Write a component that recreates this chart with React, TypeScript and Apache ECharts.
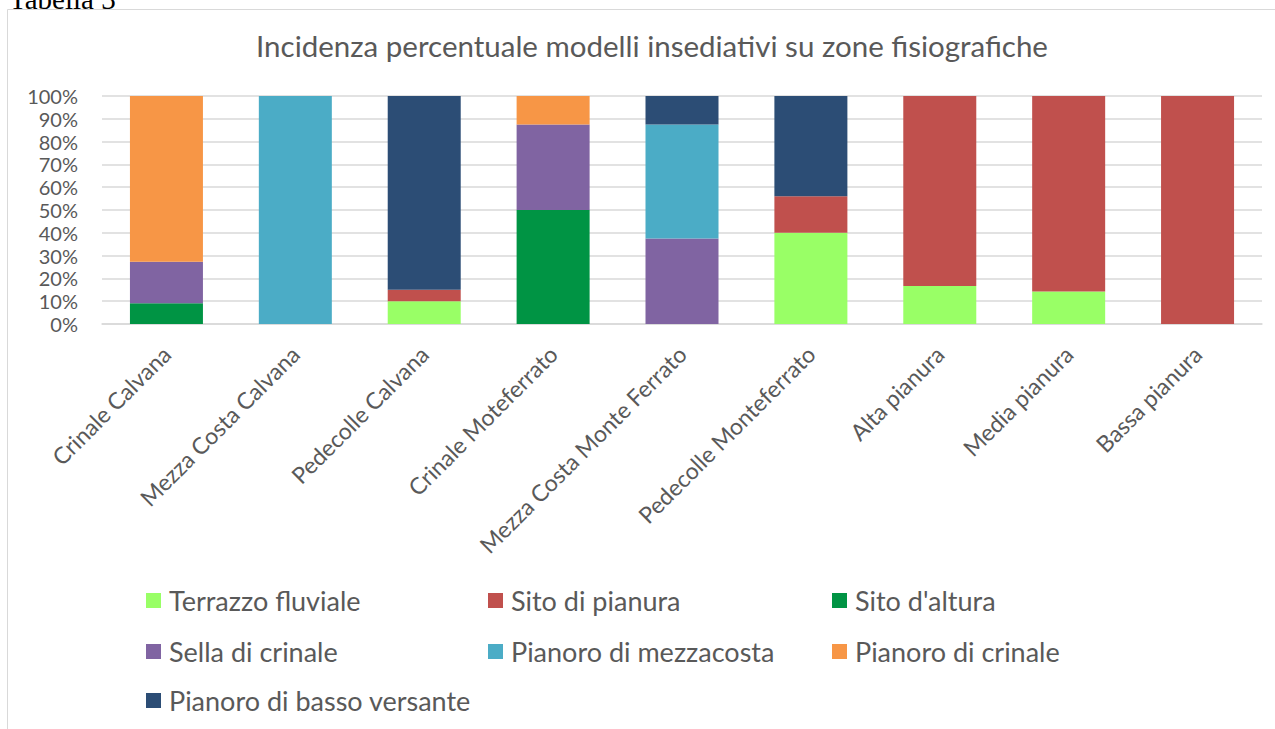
import React, { useEffect, useRef } from "react";
import * as echarts from "echarts";

const categories = [
  "Crinale Calvana",
  "Mezza Costa Calvana",
  "Pedecolle Calvana",
  "Crinale Moteferrato",
  "Mezza Costa Monte Ferrato",
  "Pedecolle Monteferrato",
  "Alta pianura",
  "Media pianura",
  "Bassa pianura",
];

const seriesNames = [
  "Terrazzo fluviale",
  "Sito di pianura",
  "Sito d'altura",
  "Sella di crinale",
  "Pianoro di mezzacosta",
  "Pianoro di crinale",
  "Pianoro di basso versante",
];

const terrazzoFluviale = [0, 0, 10, 0, 0, 40, 16.67, 14.29, 0];
const sitoDiPianura = [0, 0, 5, 0, 0, 16, 83.33, 85.71, 100];
const sitoDAltura = [9.09, 0, 0, 50, 0, 0, 0, 0, 0];
const sellaDiCrinale = [18.18, 0, 0, 37.5, 37.5, 0, 0, 0, 0];
const pianoroDiMezzacosta = [0, 100, 0, 0, 50, 0, 0, 0, 0];
const pianoroDiCrinale = [72.73, 0, 0, 12.5, 0, 0, 0, 0, 0];
const pianoroDiBassoVersante = [0, 0, 85, 0, 12.5, 44, 0, 0, 0];

const seriesValues = [
  terrazzoFluviale,
  sitoDiPianura,
  sitoDAltura,
  sellaDiCrinale,
  pianoroDiMezzacosta,
  pianoroDiCrinale,
  pianoroDiBassoVersante,
];

const seriesColors = [
  "#99ff66",
  "#c0504d",
  "#009444",
  "#8064a2",
  "#4bacc6",
  "#f79646",
  "#2c4d75",
];

// legend layout: [left, top]
const legendPositions = [
  [141, 582],
  [483, 582],
  [827, 582],
  [141, 633],
  [483, 633],
  [827, 633],
  [141, 682],
];

const FONT = "Lato, 'Open Sans', sans-serif";
const TEXT_COLOR = "#595959";

export default function App() {
  const ref = useRef<HTMLDivElement>(null);

  useEffect(() => {
    if (!ref.current) return;
    const chart = echarts.init(ref.current, null, { renderer: "svg" });
    const option: any = {
      animation: false,
      backgroundColor: "#ffffff",
      title: {
        text: "Incidenza percentuale modelli insediativi su zone fisiografiche",
        left: 647,
        top: 25,
        textAlign: "center",
        textStyle: {
          fontFamily: FONT,
          fontSize: 29.5,
          fontWeight: "normal",
          color: TEXT_COLOR,
        },
      },
      graphic: [
        {
          type: "rect",
          shape: { x: 7.5, y: 9.5, width: 1400, height: 900 },
          style: { fill: "none", stroke: "#d9d9d9", lineWidth: 1 },
          silent: true,
        },
        {
          type: "text",
          x: 9,
          y: -1,
          style: {
            text: "Tabella 3",
            font: "29px 'Liberation Serif', serif",
            fill: "#000000",
            textVerticalAlign: "middle",
          },
          silent: true,
        },
      ],
      legend: seriesNames.map((name, i) => ({
        data: [name],
        left: legendPositions[i][0],
        top: legendPositions[i][1],
        itemWidth: 15,
        itemHeight: 15,
        icon: "rect",
        selectedMode: false,
        textStyle: {
          fontFamily: FONT,
          fontSize: 27,
          color: TEXT_COLOR,
          padding: [0, 0, 0, 3],
        },
      })),
      grid: {
        left: 102,
        right: 13,
        top: 96,
        bottom: 405,
        containLabel: false,
      },
      xAxis: {
        type: "category",
        data: categories,
        axisLine: { lineStyle: { color: "#d9d9d9", width: 1.5 } },
        axisTick: { show: false },
        axisLabel: {
          rotate: 45,
          interval: 0,
          margin: 26,
          fontFamily: FONT,
          fontSize: 23,
          color: TEXT_COLOR,
        },
      },
      yAxis: {
        type: "value",
        min: 0,
        max: 100,
        interval: 10,
        axisLine: { show: false },
        axisTick: { show: false },
        splitLine: { lineStyle: { color: "#d9d9d9", width: 1.5 } },
        axisLabel: {
          formatter: "{value}%",
          margin: 24,
          fontFamily: FONT,
          fontSize: 20,
          lineHeight: 20,
          color: TEXT_COLOR,
        },
      },
      series: seriesNames.map((name, i) => ({
        name,
        type: "bar",
        stack: "total",
        barWidth: 73,
        data: seriesValues[i],
        itemStyle: { color: seriesColors[i] },
      })),
    };
    chart.setOption(option);
    return () => chart.dispose();
  }, []);

  return (
    <div
      ref={ref}
      style={{ position: "absolute", left: 0, top: 0, width: 1275, height: 729 }}
    />
  );
}
